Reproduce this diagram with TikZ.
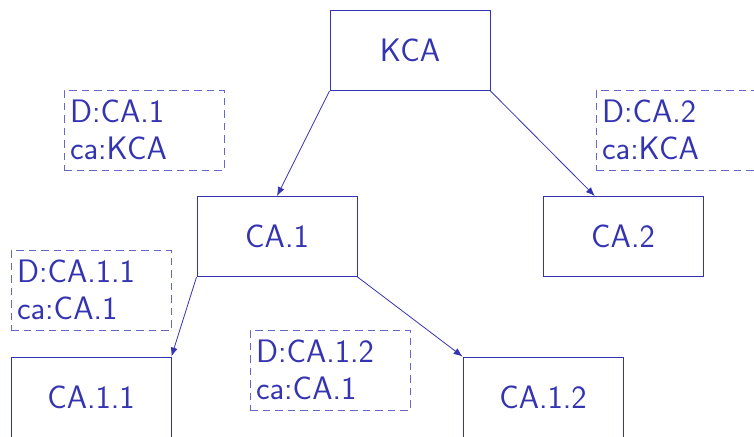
\documentclass[tikz,border=0pt]{standalone}
\usepackage{fontspec}
\usetikzlibrary{arrows.meta,calc}
\definecolor{cablue}{RGB}{52,52,178}
\begin{document}
\begin{tikzpicture}[x=1pt,y=-1pt,
  every node/.style={font=\sffamily\fontsize{32.5}{37}\selectfont, text=cablue},
  cabox/.style={draw=cablue, line width=0.9pt, minimum width=160pt, minimum height=80pt, inner sep=0pt},
  infobox/.style={draw=cablue!75, line width=0.9pt, dash pattern=on 7.5pt off 5pt, minimum width=160pt, minimum height=80pt, inner sep=6pt, text width=148pt, align=left},
  link/.style={draw=cablue, line width=0.8pt, -{Latex[length=9pt,width=7pt]}}]
\useasboundingbox (0,0) rectangle (754,436);
\clip (0,0) rectangle (754,436);
\node[cabox] (kca) at (410,50.5) {KCA};
\node[cabox] (ca1) at (277,236.5) {CA.1};
\node[cabox] (ca2) at (623,236.5) {CA.2};
\node[cabox] (ca11) at (91,397) {CA.1.1};
\node[cabox] (ca12) at (543,397) {CA.1.2};
\node[infobox] (d1) at (144,130) {D:CA.1\\ca:KCA};
\node[infobox] (d2) at (676,130) {D:CA.2\\ca:KCA};
\node[infobox] (d11) at (91,290) {D:CA.1.1\\ca:CA.1};
\node[infobox] (d12) at (330,370) {D:CA.1.2\\ca:CA.1};
\coordinate (ca2in) at ($(ca2.north west)!0.325!(ca2.north east)$);
\draw[link] (kca.south west) -- (ca1.north);
\draw[link] (kca.south east) -- (ca2in);
\draw[link] (ca1.south west) -- (ca11.north east);
\draw[link] (ca1.south east) -- (ca12.north west);
\end{tikzpicture}
\end{document}
